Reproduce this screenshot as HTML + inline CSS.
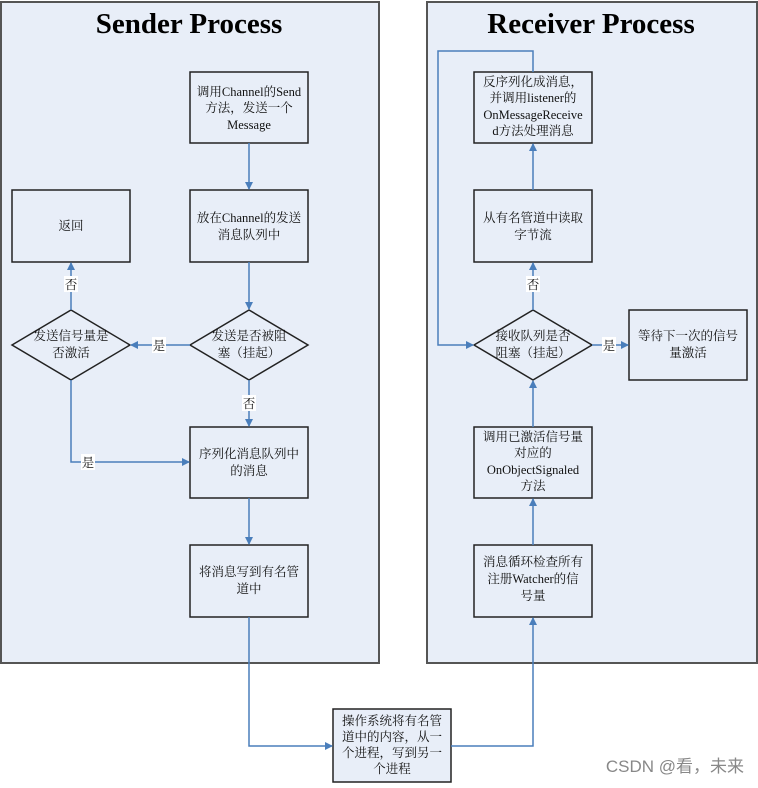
<!DOCTYPE html>
<html><head><meta charset="utf-8"><style>
body{margin:0;background:#fff;width:758px;height:783px;overflow:hidden}
</style></head><body>
<svg width="758" height="783" xmlns="http://www.w3.org/2000/svg" font-family="'Liberation Serif','Noto Serif CJK SC',serif">
<defs><marker id="a" markerWidth="8" markerHeight="8" refX="7" refY="4" orient="auto" markerUnits="userSpaceOnUse"><path d="M0,0 L8,4 L0,8 z" fill="#4a7ebb"/></marker></defs>
<rect x="1" y="2" width="378" height="661" fill="#e8eef8" stroke="#555" stroke-width="2"/>
<rect x="427" y="2" width="330" height="661" fill="#e8eef8" stroke="#555" stroke-width="2"/>
<text x="189" y="33" font-size="29" font-weight="bold" text-anchor="middle">Sender Process</text>
<text x="591" y="33" font-size="29" font-weight="bold" text-anchor="middle">Receiver Process</text>
<g fill="#e8eef8" stroke="#222" stroke-width="1.5">
<rect x="190" y="72" width="118" height="71"/><rect x="190" y="190" width="118" height="72"/>
<rect x="12" y="190" width="118" height="72"/>
<polygon points="190,345 249,310 308,345 249,380"/><polygon points="12,345 71,310 130,345 71,380"/>
<rect x="190" y="427" width="118" height="71"/><rect x="190" y="545" width="118" height="72"/>
<rect x="333" y="709" width="118" height="73"/>
<rect x="474" y="72" width="118" height="71"/><rect x="474" y="190" width="118" height="72"/>
<polygon points="474,345 533,310 592,345 533,380"/>
<rect x="629" y="310" width="118" height="70"/>
<rect x="474" y="427" width="118" height="71"/><rect x="474" y="545" width="118" height="72"/>
</g>
<g fill="none" stroke="#4a7ebb" stroke-width="1.5" marker-end="url(#a)">
<path d="M249,143 V189"/><path d="M249,262 V309"/><path d="M190,345 H131"/><path d="M71,310 V263"/>
<path d="M249,380 V426"/><path d="M71,380 V462 H189"/><path d="M249,498 V544"/>
<path d="M249,617 V746 H332"/><path d="M451,746 H533 V618"/>
<path d="M533,545 V499"/><path d="M533,427 V381"/><path d="M533,310 V263"/><path d="M533,190 V144"/>
<path d="M533,72 V51 H438 V345 H473"/><path d="M592,345 H628"/>
</g>
<g font-size="12.5" text-anchor="middle" fill="#111">
<rect x="64" y="276" width="14" height="16" fill="#fff"/><text x="71" y="289">否</text>
<rect x="152" y="337" width="14" height="16" fill="#fff"/><text x="159" y="350">是</text>
<rect x="242" y="395" width="14" height="16" fill="#fff"/><text x="249" y="408">否</text>
<rect x="81" y="454" width="14" height="16" fill="#fff"/><text x="88" y="467">是</text>
<rect x="526" y="276" width="14" height="16" fill="#fff"/><text x="533" y="289">否</text>
<rect x="602" y="337" width="14" height="16" fill="#fff"/><text x="609" y="350">是</text>
<text x="249" y="96">调用Channel的Send</text><text x="249" y="112">方法，发送一个</text><text x="249" y="129">Message</text>
<text x="249" y="222">放在Channel的发送</text><text x="249" y="239">消息队列中</text>
<text x="71" y="230">返回</text>
<text x="249" y="340">发送是否被阻</text><text x="249" y="357">塞（挂起）</text>
<text x="71" y="340">发送信号量是</text><text x="71" y="357">否激活</text>
<text x="249" y="458">序列化消息队列中</text><text x="249" y="475">的消息</text>
<text x="249" y="576">将消息写到有名管</text><text x="249" y="593">道中</text>
<text x="392" y="725">操作系统将有名管</text><text x="392" y="741">道中的内容，从一</text><text x="392" y="757">个进程，写到另一</text><text x="392" y="773">个进程</text>
<text x="533" y="86">反序列化成消息，</text><text x="533" y="102">并调用listener的</text><text x="533" y="119">OnMessageReceive</text><text x="533" y="135">d方法处理消息</text>
<text x="533" y="222">从有名管道中读取</text><text x="533" y="239">字节流</text>
<text x="533" y="340">接收队列是否</text><text x="533" y="357">阻塞（挂起）</text>
<text x="688" y="340">等待下一次的信号</text><text x="688" y="357">量激活</text>
<text x="533" y="441">调用已激活信号量</text><text x="533" y="457">对应的</text><text x="533" y="474">OnObjectSignaled</text><text x="533" y="490">方法</text>
<text x="533" y="566">消息循环检查所有</text><text x="533" y="583">注册Watcher的信</text><text x="533" y="600">号量</text>
</g>
<text x="744" y="772" font-size="17" text-anchor="end" fill="#888" font-family="'Liberation Sans','Noto Sans CJK SC',sans-serif">CSDN @看，未来</text>
</svg>
</body></html>
